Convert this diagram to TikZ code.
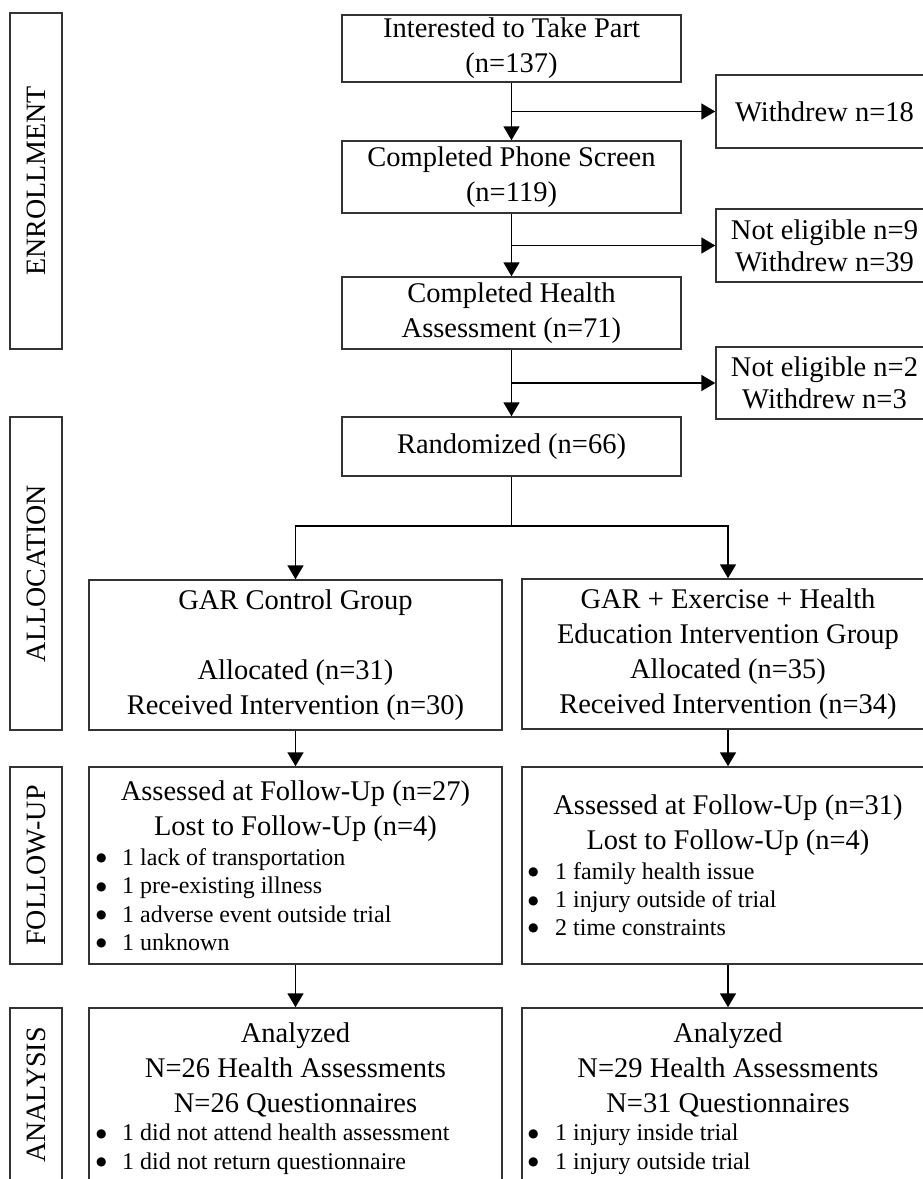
\documentclass[tikz,border=0pt]{standalone}
\usepackage{fontspec}
\setmainfont{Liberation Serif}
\newfontfamily\sidefont{Liberation Serif}
\newfontfamily\dotfont{DejaVu Sans}
\usetikzlibrary{arrows.meta}
\newcommand{\bul}[1]{\makebox[#1][l]{\raisebox{3.5pt}{\dotfont\fontsize{12}{12}\selectfont ●}}}
\begin{document}
\begin{tikzpicture}[x=1pt,y=-1pt,
  box/.style={draw=black!80,line width=1.5pt,inner sep=0pt,align=center,font=\fontsize{28.5}{35}\selectfont},
  sbox/.style={box,font=\fontsize{28.5}{32}\selectfont},
  side/.style={draw=black!80,line width=1.5pt,inner sep=0pt,rotate=90,minimum height=52pt,font=\sidefont\fontsize{28}{30}\selectfont},
  hd/.style={inner sep=0pt,anchor=base,font=\fontsize{28.5}{35}\selectfont},
  bl/.style={inner sep=0pt,anchor=base west,font=\fontsize{24}{28}\selectfont},
  arr/.style={draw=black,line width=1.8pt,-{Triangle[length=14pt,width=16pt]}},
  ln/.style={draw=black,line width=1.8pt}]
\useasboundingbox (0,0) rectangle (923,1179);
\clip (0,0) rectangle (923,1179);

% side labels
\node[side,minimum width=336pt] (enr) at (36,181) {ENROLLMENT};
\node[side,minimum width=313pt] (alloc) at (36,573.5) {ALLOCATION};
\node[side,minimum width=197pt] (fup) at (36,865.5) {FOLLOW-UP};
\node[side,minimum width=174pt] (anl) at (36,1095) {ANALYSIS};

% enrollment
\node[box,minimum width=339pt,minimum height=67pt] (int) at (511.5,48.5) {Interested to Take Part\\(n=137)};
\node[box,minimum width=339pt,minimum height=72pt] (phone) at (511.5,177) {Completed Phone Screen\\(n=119)};
\node[box,minimum width=339pt,minimum height=72pt] (health) at (511.5,313) {Completed Health\\Assessment (n=71)};
\node[box,minimum width=339pt,minimum height=59pt] (rand) at (511.5,446.5) {Randomized (n=66)};
\node[box,minimum width=217pt,minimum height=73pt] (w1) at (824.5,111.5) {Withdrew n=18};
\node[sbox,minimum width=217pt,minimum height=73pt] (w2) at (824.5,245.5) {Not eligible n=9\\Withdrew n=39};
\node[sbox,minimum width=217pt,minimum height=72pt] (w3) at (824.5,383) {Not eligible n=2\\Withdrew n=3};

% allocation
\node[box,minimum width=413pt,minimum height=150pt] (gar) at (295.5,655) {GAR Control Group\\\mbox{}\\Allocated (n=31)\\Received Intervention (n=30)};
\node[box,minimum width=412pt,minimum height=150pt] (ex) at (728,654) {GAR + Exercise + Health\\Education Intervention Group\\Allocated (n=35)\\Received Intervention (n=34)};

% follow-up
\node[box,minimum width=413pt,minimum height=197pt] (fu1) at (295.5,865.5) {};
\node[box,minimum width=412pt,minimum height=197pt] (fu2) at (728,865.5) {};
\node[hd] (fu1a) at (295.5,800) {Assessed at Follow-Up (n=27)};
\node[hd] (fu1b) at (295.5,835) {Lost to Follow-Up (n=4)};
\node[bl] (fu1c) at (96,865) {\bul{26pt}1 lack of transportation};
\node[bl] (fu1d) at (96,893.5) {\bul{26pt}1 pre-existing illness};
\node[bl] (fu1e) at (96,922) {\bul{26pt}1 adverse event outside trial};
\node[bl] (fu1f) at (96,950) {\bul{26pt}1 unknown};
\node[hd] (fu2a) at (728,814) {Assessed at Follow-Up (n=31)};
\node[hd] (fu2b) at (728,849) {Lost to Follow-Up (n=4)};
\node[bl] (fu2c) at (528,879) {\bul{27pt}1 family health issue};
\node[bl] (fu2d) at (528,907.5) {\bul{27pt}1 injury outside of trial};
\node[bl] (fu2e) at (528,935) {\bul{27pt}2 time constraints};

% analysis
\node[box,minimum width=413pt,minimum height=190pt] (an1) at (295.5,1103) {};
\node[box,minimum width=412pt,minimum height=190pt] (an2) at (728,1103) {};
\node[hd] (an1a) at (295.5,1042) {Analyzed};
\node[hd] (an1b) at (295.5,1077) {N=26 Health Assessments};
\node[hd] (an1c) at (295.5,1112) {N=26 Questionnaires};
\node[bl] (an1d) at (96,1140.5) {\bul{26pt}1 did not attend health assessment};
\node[bl] (an1e) at (96,1169) {\bul{26pt}1 did not return questionnaire};
\node[hd] (an2a) at (728,1042) {Analyzed};
\node[hd] (an2b) at (728,1077) {N=29 Health Assessments};
\node[hd] (an2c) at (728,1112) {N=31 Questionnaires};
\node[bl] (an2d) at (528,1140.5) {\bul{27pt}1 injury inside trial};
\node[bl] (an2e) at (528,1169) {\bul{27pt}1 injury outside trial};

% connectors
\draw[arr] (int) -- (phone);
\draw[arr] (phone) -- (health);
\draw[arr] (health) -- (rand);
\draw[arr] (int.south |- w1.west) -- (w1);
\draw[arr] (phone.south |- w2.west) -- (w2);
\draw[arr] (health.south |- w3.west) -- (w3);
\coordinate (split) at (511.5,526);
\draw[ln] (rand) -- (split);
\draw[arr] (split) -| (gar);
\draw[arr] (split) -| (ex);
\draw[arr] (gar) -- (fu1);
\draw[arr] (ex) -- (fu2);
\draw[arr] (fu1) -- (an1);
\draw[arr] (fu2) -- (an2);
\end{tikzpicture}
\end{document}
